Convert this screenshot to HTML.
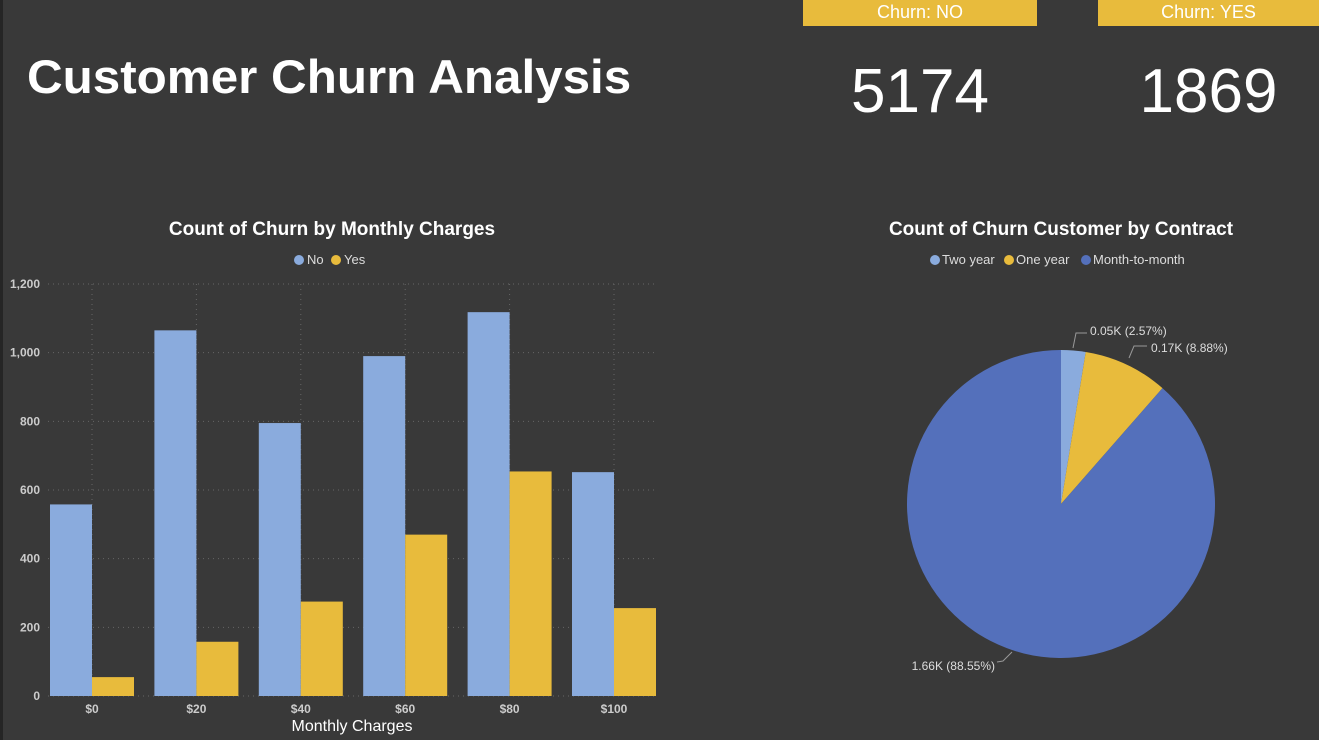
<!DOCTYPE html>
<html><head><meta charset="utf-8"><style>
body{margin:0;width:1319px;height:740px;background:#393939;overflow:hidden;font-family:"Liberation Sans",Arial,sans-serif;position:relative}
.strip{position:absolute;left:0;top:0;width:3px;height:740px;background:#252525}
.title{position:absolute;left:27px;top:49px;font-size:47px;font-weight:bold;color:#fff;transform:scaleX(1.05);transform-origin:left}
.kpi{position:absolute;top:0;height:26px;background:#e8bb3c;color:#fff;font-size:18px;text-align:center;line-height:24px}
.num{position:absolute;top:56px;font-size:62px;color:#fff;text-align:center}
svg{position:absolute;left:0;top:0}
</style></head><body>
<div class="strip"></div>
<div class="title">Customer Churn Analysis</div>
<div class="kpi" style="left:803px;width:234px">Churn: NO</div>
<div class="kpi" style="left:1098px;width:221px">Churn: YES</div>
<div class="num" style="left:803px;width:234px">5174</div>
<div class="num" style="left:1098px;width:221px">1869</div>
<svg id="s" width="1319" height="740"></svg>
<script>
const categories=["$0","$20","$40","$60","$80","$100"];
const noValues=[558,1065,795,990,1118,652];
const yesValues=[55,158,275,470,654,256];
const yTicks=[0,200,400,600,800,1000,1200];
const pieLabels=["Two year","One year","Month-to-month"];
const pieValues=[48,166,1655];
const pieText=["0.05K (2.57%)","0.17K (8.88%)","1.66K (88.55%)"];
const s=document.getElementById('s');const NS="http://www.w3.org/2000/svg";
function el(t,a,txt){const e=document.createElementNS(NS,t);for(const k in a)e.setAttribute(k,a[k]);if(txt!=null)e.textContent=txt;s.appendChild(e);return e;}
const y=v=>696-v*412/1200;const cx=i=>92+i*104.4;const bw=42;
function txt(x,yy,t,size,fill,anchor,bold,name){const e=el('text',{x:x,y:yy,'font-size':size,fill:fill,'text-anchor':anchor,'font-weight':bold?'bold':'normal','font-family':'Liberation Sans, Arial, sans-serif'},t);return e;}
txt(332,235,"Count of Churn by Monthly Charges",19,"#fff","middle",true,"bar-chart-title");
let c=el('circle',{cx:299,cy:260,r:5,fill:'#8aabdd'});
txt(307,264,"No",13,"#ddd","start",false,"legend-no");
c=el('circle',{cx:336,cy:260,r:5,fill:'#e8bb3c'});
txt(344,264,"Yes",13,"#ddd","start",false,"legend-yes");
yTicks.forEach(v=>{let l=el('line',{x1:48,x2:655,y1:y(v),y2:y(v),stroke:'#666','stroke-dasharray':'1 4'});
txt(40,y(v)+4,v.toLocaleString('en-US'),12,"#ccc","end",true,"y-tick-label");});
categories.forEach((cat,i)=>{let l=el('line',{x1:cx(i),x2:cx(i),y1:284,y2:696,stroke:'#666','stroke-dasharray':'1 4'});});
categories.forEach((cat,i)=>{
let r=el('rect',{x:cx(i)-bw,y:y(noValues[i]),width:bw,height:696-y(noValues[i]),fill:'#8aabdd'});
r=el('rect',{x:cx(i),y:y(yesValues[i]),width:bw,height:696-y(yesValues[i]),fill:'#e8bb3c'});
txt(cx(i),713,cat,12,"#ccc","middle",true,"x-tick-label");});
txt(352,731,"Monthly Charges",16,"#fff","middle",false,"x-axis-title");
txt(1061,235,"Count of Churn Customer by Contract",19,"#fff","middle",true,"pie-chart-title");
const pc=['#8aabdd','#e8bb3c','#5470bb'];
const lx=[935,1009,1086];
pieLabels.forEach((p,i)=>{c=el('circle',{cx:lx[i],cy:260,r:5,fill:pc[i]});
txt(lx[i]+7,264,p,13,"#ddd","start",false,"legend-"+p.toLowerCase().replace(/ /g,'-'));});
const PX=1061,PY=504,R=154;const tot=pieValues.reduce((a,b)=>a+b,0);let a0=0;
pieValues.forEach((v,i)=>{const a1=a0+v/tot*2*Math.PI;
const p=(a)=>[PX+R*Math.sin(a),PY-R*Math.cos(a)];const [x0,y0]=p(a0),[x1,y1]=p(a1);
const d=`M${PX},${PY}L${x0},${y0}A${R},${R} 0 ${a1-a0>Math.PI?1:0} 1 ${x1},${y1}Z`;
const e=el('path',{d:d,fill:pc[i]});a0=a1;});
const leaders=[["M1073,348L1076,333L1087,333",1090,335,"start"],["M1129,358L1134,346L1147,346",1151,352,"start"],["M997,662L1003,661L1012,652",995,670,"end"]];
leaders.forEach((L,i)=>{let e=el('path',{d:L[0],stroke:'#999',fill:'none'});
txt(L[1],L[2],pieText[i],12,"#ddd",L[3],false,"pie-data-label");});
</script>
</body></html>
